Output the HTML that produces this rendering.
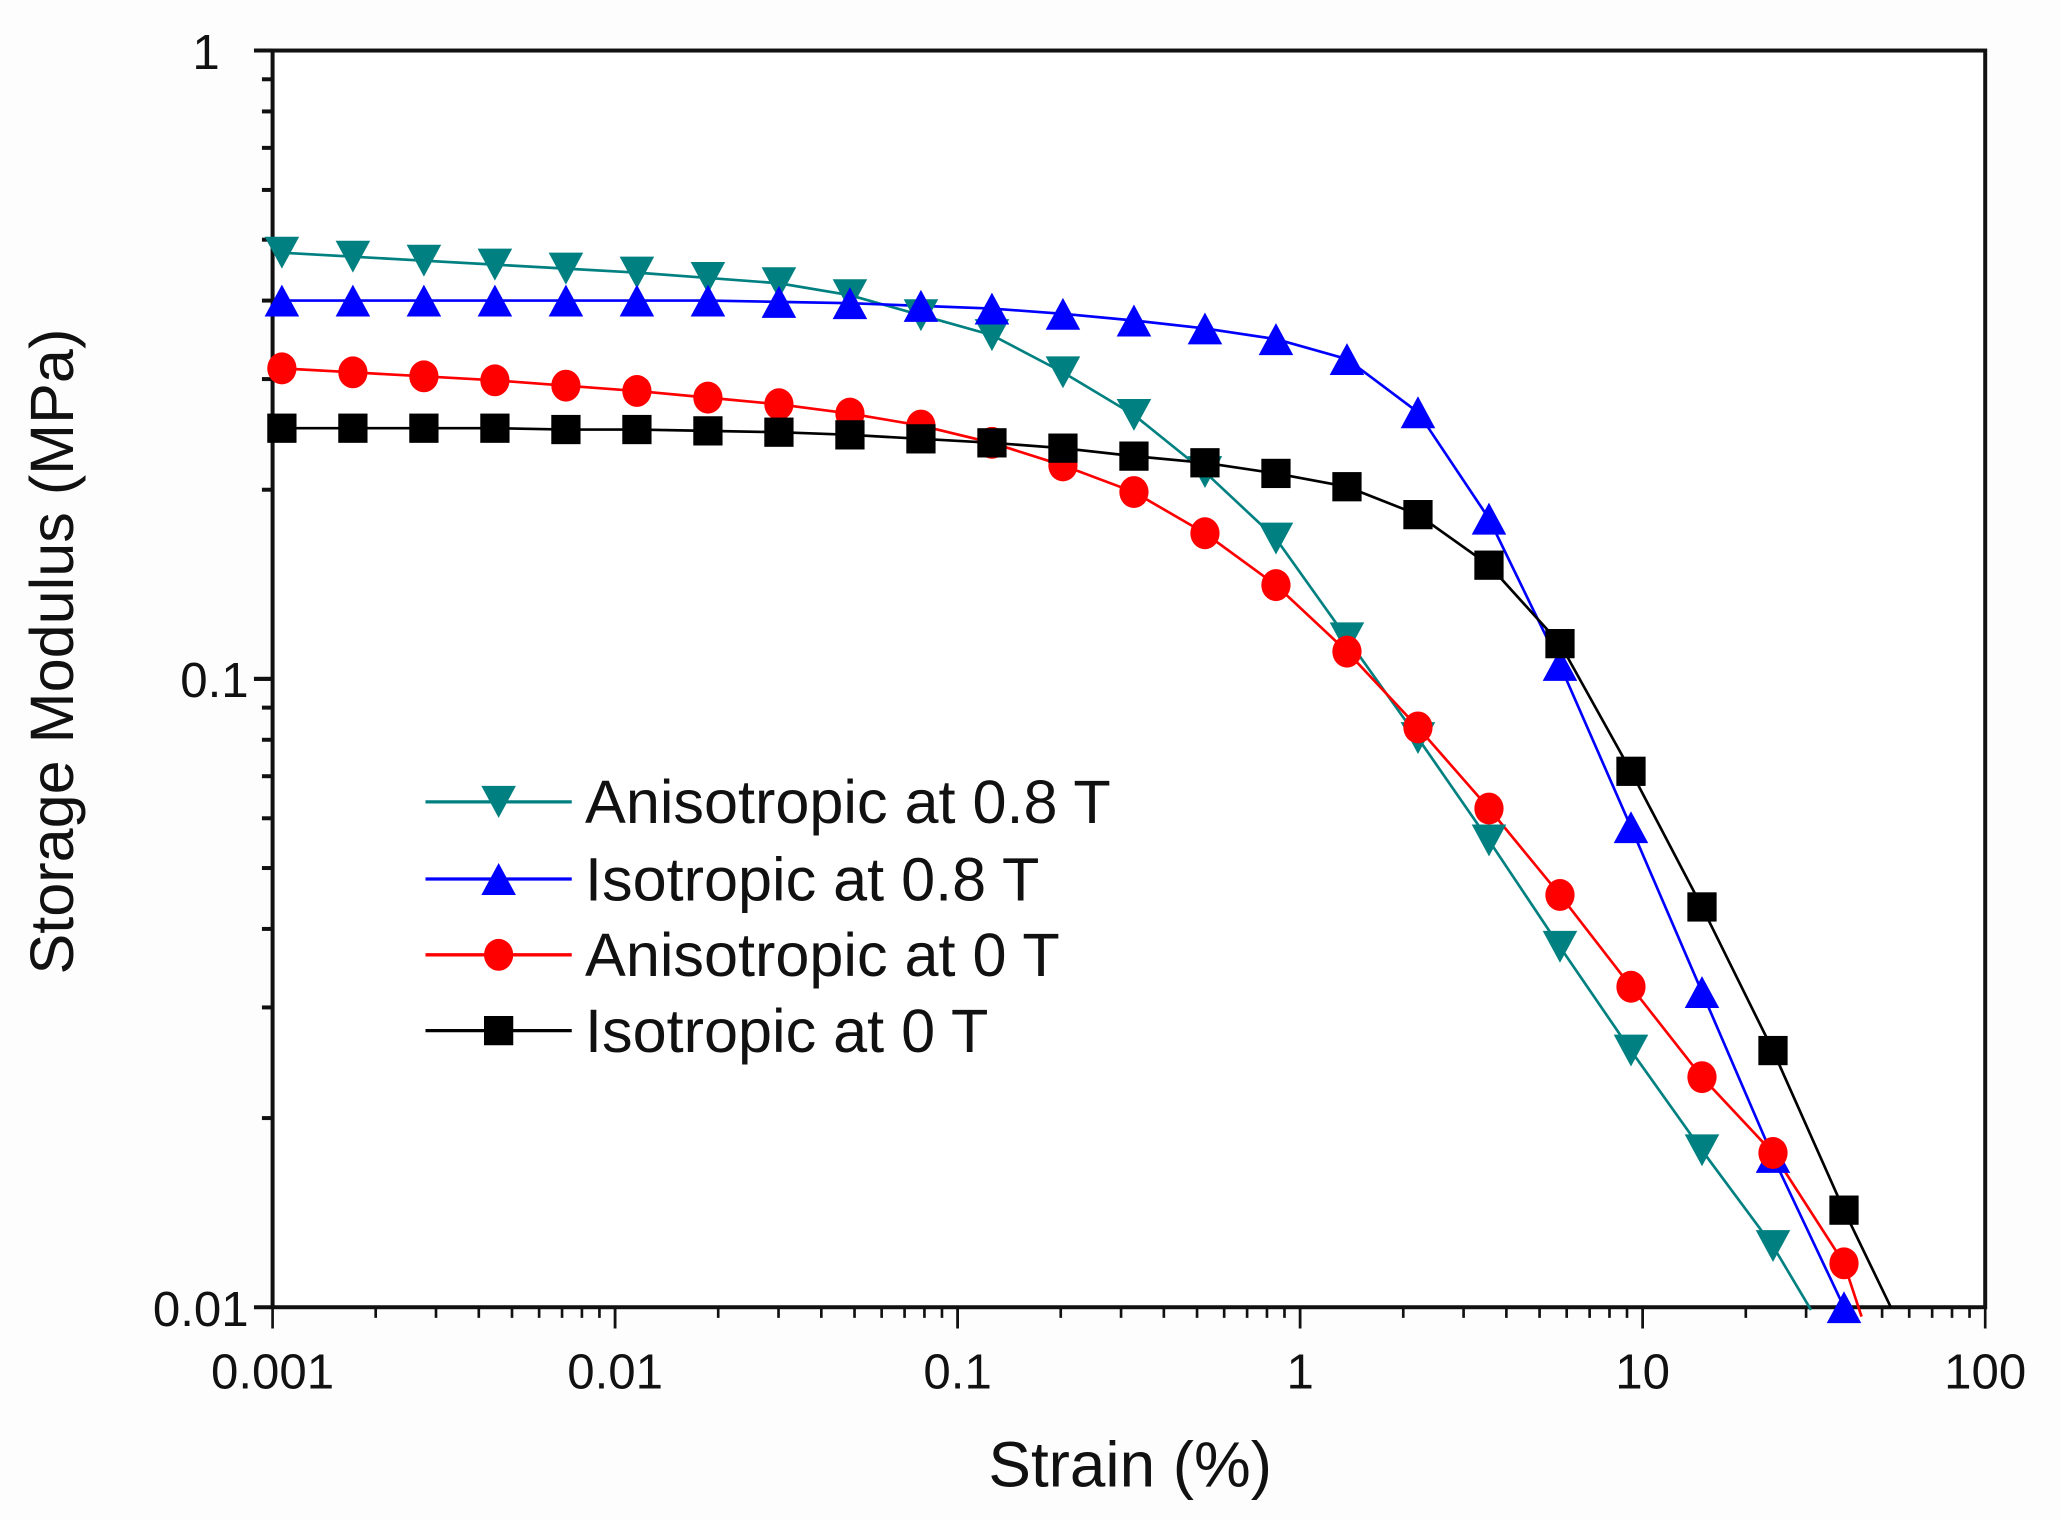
<!DOCTYPE html>
<html><head><meta charset="utf-8"><style>
html,body{margin:0;padding:0;background:#fdfdfd;}
svg{display:block;}
text{font-family:"Liberation Sans",Arial,sans-serif;fill:#111;}
</style></head><body>
<svg id="s" width="2061" height="1520" viewBox="0 0 1550 1143" preserveAspectRatio="none" xmlns="http://www.w3.org/2000/svg">
<rect x="0" y="0" width="1550" height="1143" fill="#fdfdfd"/>
<rect x="205" y="38" width="1288" height="945" fill="#fff"/>
<g id="g"></g>
<text x="155" y="52" font-size="37" text-anchor="middle">1</text>
<text x="187" y="524" font-size="37" text-anchor="end">0.1</text>
<text x="187" y="997" font-size="37" text-anchor="end">0.01</text>
<text x="850" y="1118" font-size="48" text-anchor="middle">Strain (%)</text>
<text transform="translate(55,490) rotate(-90)" font-size="46" text-anchor="middle">Storage Modulus (MPa)</text>
<text x="440" y="619" font-size="46">Anisotropic at 0.8 T</text>
<text x="440" y="677" font-size="46">Isotropic at 0.8 T</text>
<text x="440" y="734" font-size="46">Anisotropic at 0 T</text>
<text x="440" y="791" font-size="46">Isotropic at 0 T</text>
</svg>
<script>
var g=document.getElementById('g'),h='';
var L=205,R=1493,T=38,B=983;
var dx=(R-L)/5,dy=(B-T)/2;
for(var d=0;d<2;d++){for(var k=1;k<=10;k++){var y=B-dy*(d+Math.log10(k));var len=(k==1||k==10)?14:8;h+='<line x1="'+(L-len)+'" x2="'+L+'" y1="'+y+'" y2="'+y+'" stroke="#111" stroke-width="3"/>';}}
var labs=['0.001','0.01','0.1','1','10','100'];
for(var d=0;d<5;d++){for(var k=1;k<=10;k++){var x=L+dx*(d+Math.log10(k));var len=(k==1||k==10)?16:8;h+='<line x1="'+x+'" x2="'+x+'" y1="'+B+'" y2="'+(B+len)+'" stroke="#111" stroke-width="2"/>';}}
for(var d=0;d<=5;d++){h+='<text x="'+(L+dx*d)+'" y="1044" font-size="37" text-anchor="middle">'+labs[d]+'</text>';}
h+='<rect x="'+L+'" y="'+T+'" width="'+(R-L)+'" height="'+(B-T)+'" fill="none" stroke="#111" stroke-width="3"/>';
var xs=[];for(var i=0;i<23;i++)xs.push(212+i*53.4);
function tri(x,y,c,dn){var a=13,b=12;return dn?'<polygon points="'+(x-a)+','+(y-b)+' '+(x+a)+','+(y-b)+' '+x+','+(y+b)+'" fill="'+c+'"/>':'<polygon points="'+(x-a)+','+(y+b)+' '+(x+a)+','+(y+b)+' '+x+','+(y-b)+'" fill="'+c+'"/>';}
function mk(t,x,y,c){if(t=='d')return tri(x,y,c,1);if(t=='u')return tri(x,y,c,0);if(t=='c')return '<ellipse cx="'+x+'" cy="'+y+'" rx="11" ry="12" fill="'+c+'"/>';return '<rect x="'+(x-11)+'" y="'+(y-11)+'" width="22" height="22" fill="'+c+'"/>';}
var S=[
{c:'#008080',t:'d',y:[190,193,196,199,202,205,209,213,222,237,252,280,312,355,405,480,555,632,712,790,865,937],end:[1362,985]},
{c:'#0000ff',t:'u',y:[226,226,226,226,226,226,226,227,228,230,232,236,241,247,255,270,310,390,500,622,746,870,983]},
{c:'#ff0000',t:'c',y:[277,280,283,286,290,294,299,304,311,320,333,350,370,401,440,490,547,608,673,742,810,867,950],end:[1400,990]},
{c:'#000000',t:'s',y:[322,322,322,322,323,323,324,325,327,330,333,337,343,348,356,366,387,425,484,580,682,790,910],end:[1422,983]}];
S.forEach(function(s){var p=[];for(var i=0;i<s.y.length;i++)p.push(xs[i]+','+s.y[i]);if(s.end)p.push(s.end.join(','));
h+='<polyline points="'+p.join(' ')+'" fill="none" stroke="'+s.c+'" stroke-width="2"/>';});
S.forEach(function(s){for(var i=0;i<s.y.length;i++)h+=mk(s.t,xs[i],s.y[i],s.c);});
var ly=[603,661,718,775];
S.forEach(function(s,i){h+='<line x1="320" x2="430" y1="'+ly[i]+'" y2="'+ly[i]+'" stroke="'+s.c+'" stroke-width="2.5"/>'+mk(s.t,375,ly[i],s.c);});
g.innerHTML=h;
</script>
</body></html>
